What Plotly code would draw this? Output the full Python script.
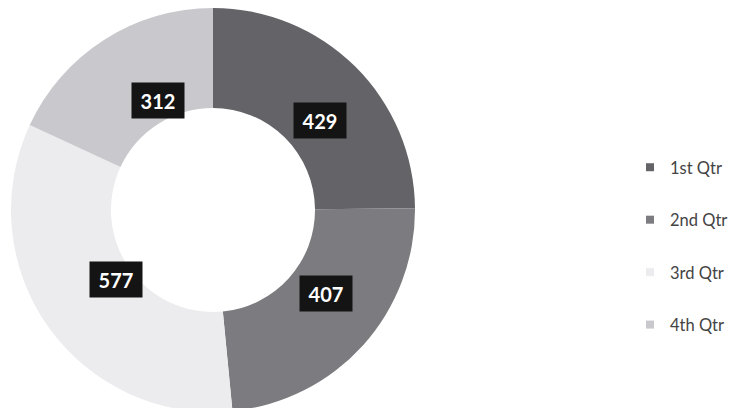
import numpy as np
import plotly.graph_objects as go

# ---- data ----
categories = ["1st Qtr", "2nd Qtr", "3rd Qtr", "4th Qtr"]
values = [429, 407, 577, 312]
colors = ["#646468", "#7c7c80", "#ececef", "#c9c9cd"]

# ---- layout constants (pixels) ----
W, H = 734, 412
MR = 150                      # right margin reserved for the legend
PW = W - MR                   # plot-area width
cx, cy, R = 213, 210, 202
hole = 0.505

fig = go.Figure()
fig.add_trace(go.Pie(
    labels=categories, values=values, sort=False, direction="clockwise",
    rotation=0, hole=hole, textinfo="none", hoverinfo="label+value",
    showlegend=False,
    marker=dict(colors=colors, line=dict(width=0)),
    domain=dict(x=[(cx - R) / PW, (cx + R) / PW],
                y=[max(0, 1 - (cy + R) / H), 1 - (cy - R) / H]),
))

# data labels: black boxes centred on each slice's mid-angle
total = float(sum(values))
starts = np.cumsum([0] + values[:-1])
rmid = R * (1 + hole) / 2
for v, s in zip(values, starts):
    th = 2 * np.pi * (s + v / 2) / total
    px = cx + rmid * np.sin(th)
    py = cy - rmid * np.cos(th)
    fig.add_annotation(
        x=px / PW, y=1 - py / H, xref="paper", yref="paper",
        text=f"<b>{v}</b>", showarrow=False,
        font=dict(family="Lato", size=20, color="white"),
        bgcolor="#141414", width=52, height=35, borderpad=0,
    )

# legend entries (one group each so they can be spaced out)
for name, col in zip(categories, colors):
    fig.add_trace(go.Scatter(
        x=[None], y=[None], mode="markers", name=name, legendgroup=name,
        marker=dict(symbol="square", size=8, color=col), hoverinfo="skip",
    ))

fig.update_layout(
    width=W, height=H,
    margin=dict(l=0, r=MR, t=0, b=0),
    paper_bgcolor="white", plot_bgcolor="white",
    xaxis=dict(visible=False), yaxis=dict(visible=False),
    showlegend=True,
    legend=dict(x=630 / PW, xanchor="left", y=1 - 246 / H, yanchor="middle",
                tracegroupgap=28,
                font=dict(family="Lato", size=16.5, color="#444444"),
                bgcolor="rgba(0,0,0,0)"),
)

fig.write_html(
    "out.html",
    post_script="document.body.style.margin='0';"
                "document.body.style.overflow='hidden';"
                "document.documentElement.style.overflow='hidden';",
)
